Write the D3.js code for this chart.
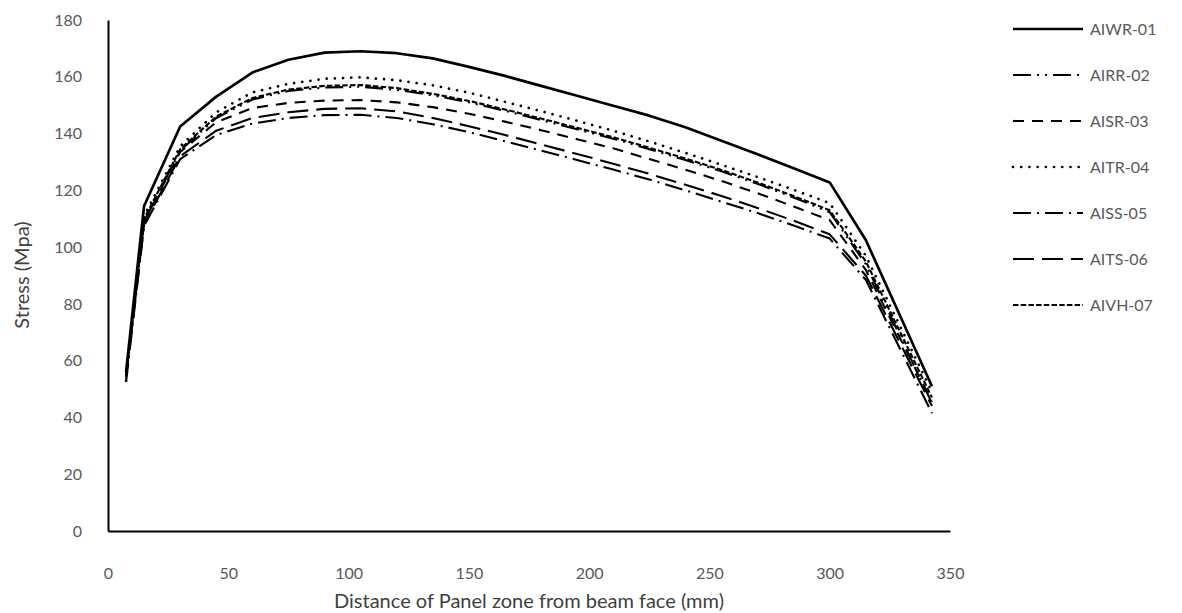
<!DOCTYPE html>
<html>
<head>
<meta charset="utf-8">
<script src="https://cdn.jsdelivr.net/npm/d3@7"></script>
<style>
  body { margin: 0; background: #fff; }
  svg { display: block; }
  text { font-family: Lato, "Open Sans", sans-serif; }
</style>
</head>
<body>
<svg id="chart" width="1182" height="613"></svg>
<script>
// ---- data ----
const distance = [7.5, 15, 30, 45, 60, 75, 90, 105, 120, 135, 150, 165, 180, 195, 210, 225, 240, 255, 270, 285, 300, 315, 342.5];
const AIWR01 = [56, 114.5, 142.5, 153, 161.5, 166, 168.5, 169, 168.3, 166.5, 163.5, 160.3, 156.8, 153.3, 149.8, 146.3, 142.2, 137.5, 132.7, 127.8, 122.8, 102.5, 51];
const AIRR02 = [54, 109, 134, 145.5, 152, 155, 156.2, 156.5, 155.4, 153.5, 151, 148, 144.8, 141.5, 138.2, 134.5, 130.7, 126.7, 122.3, 117.5, 112.3, 94, 45];
const AISR03 = [55, 109, 133.5, 144, 149, 150.8, 151.6, 151.8, 151, 149.3, 147, 144.2, 141.2, 138, 134.8, 131, 127.3, 123.3, 119, 114.3, 109.5, 92, 45.5];
const AITR04 = [53, 111, 135.5, 147.5, 154.5, 157.5, 159.3, 159.8, 158.8, 157, 154.4, 151.2, 147.9, 144.5, 141, 137.2, 133.2, 129, 124.7, 120.2, 115.5, 97, 49];
const AISS05 = [52.5, 107.5, 131, 139.5, 143.5, 145.5, 146.5, 146.6, 145.5, 143.3, 140.5, 137.3, 134, 130.7, 127.3, 123.8, 120, 116, 112, 107.6, 103, 88.5, 41.5];
const AITS06 = [54.5, 108, 132, 141, 145.5, 147.5, 148.7, 148.9, 147.8, 145.5, 142.6, 139.5, 136.2, 132.8, 129.4, 125.8, 122, 118, 113.8, 109.3, 104.5, 90, 44];
const AIVH07 = [55, 110, 134.5, 146, 152.5, 155.5, 156.8, 157.1, 156, 154, 151.5, 148.5, 145.3, 142, 138.7, 135, 131.2, 127.2, 122.8, 118, 113, 95, 47];
const seriesNames = ["AIWR-01", "AIRR-02", "AISR-03", "AITR-04", "AISS-05", "AITS-06", "AIVH-07"];
const seriesValues = [AIWR01, AIRR02, AISR03, AITR04, AISS05, AITS06, AIVH07];
const xTicks = [0, 50, 100, 150, 200, 250, 300, 350];
const yTicks = [0, 20, 40, 60, 80, 100, 120, 140, 160, 180];
const xTitle = "Distance of Panel zone from beam face (mm)";
const yTitle = "Stress (Mpa)";

// ---- styles ----
const styles = [
  { w: 2.7, dash: null, cap: "butt" },
  { w: 2.1, dash: "18,6,2,6,2,6", cap: "butt" },
  { w: 2.1, dash: "11,8", cap: "butt" },
  { w: 2.7, dash: "0.01,8.2", cap: "round" },
  { w: 2.1, dash: "18,6,2,6", cap: "butt" },
  { w: 2.1, dash: "21,8", cap: "butt" },
  { w: 2.1, dash: "5.5,2.2", cap: "butt" }
];

const svg = d3.select("#chart");
const x = d3.scaleLinear().domain([0, 350]).range([108, 950]);
const y = d3.scaleLinear().domain([0, 180]).range([531, 20]);
const tickColor = "#595959";

// axes
const gx = svg.append("g").attr("transform", `translate(0,${y(0)})`)
  .call(d3.axisBottom(x).tickValues(xTicks).tickSize(0).tickPadding(37).tickFormat(d3.format("d")));
gx.select(".domain").attr("stroke", "#000").attr("stroke-width", 2);
gx.selectAll("text").attr("fill", tickColor).style("font-size", "16px").style("font-family", "Lato");

const gy = svg.append("g").attr("transform", `translate(${x(0)},0)`)
  .call(d3.axisLeft(y).tickValues(yTicks).tickSize(0).tickPadding(26).tickFormat(d3.format("d")));
gy.select(".domain").attr("stroke", "#000").attr("stroke-width", 2);
gy.selectAll("text").attr("fill", tickColor).style("font-size", "16px").style("font-family", "Lato");

// lines
const line = d3.line().x((d, i) => x(distance[i])).y(d => y(d)).curve(d3.curveLinear);
seriesValues.forEach((vals, k) => {
  const st = styles[k];
  svg.append("path").datum(vals)
    .attr("d", line)
    .attr("fill", "none")
    .attr("stroke", "#000")
    .attr("stroke-width", st.w)
    .attr("stroke-linecap", st.cap)
    .attr("stroke-linejoin", "round")
    .attr("stroke-dasharray", st.dash);
});

// legend
const leg = svg.append("g");
seriesNames.forEach((name, k) => {
  const st = styles[k];
  const yy = 29 + k * 46;
  leg.append("line").attr("x1", 1013).attr("x2", 1083).attr("y1", yy).attr("y2", yy)
    .attr("stroke", "#000").attr("stroke-width", st.w).attr("stroke-linecap", st.cap)
    .attr("stroke-dasharray", st.dash);
  leg.append("text").attr("x", 1090).attr("y", yy).attr("dy", "0.35em")
    .attr("fill", tickColor).style("font-size", "16px").text(name);
});

// titles
svg.append("text").attr("x", 529).attr("y", 601).attr("text-anchor", "middle")
  .attr("dy", "0.35em").attr("fill", "#404040").style("font-size", "20px").text(xTitle);
svg.append("text").attr("transform", "translate(22,275) rotate(-90)").attr("text-anchor", "middle")
  .attr("dy", "0.35em").attr("fill", "#404040").style("font-size", "20px").text(yTitle);
</script>
</body>
</html>
